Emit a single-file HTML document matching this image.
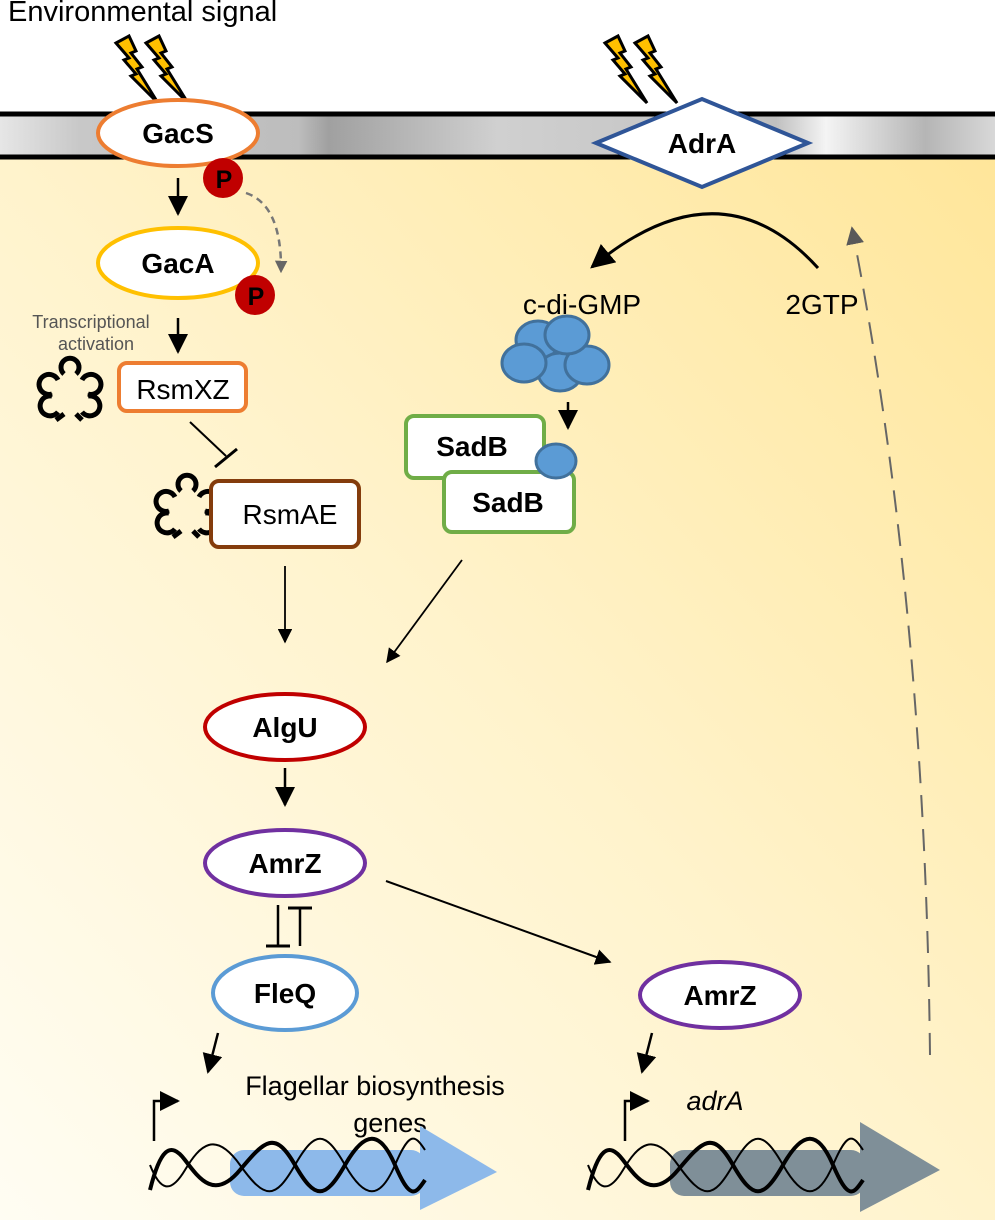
<!DOCTYPE html>
<html><head><meta charset="utf-8"><style>
html,body{margin:0;padding:0;background:#fff}
svg{display:block}
text{font-family:"Liberation Sans",Arial,sans-serif}
</style></head><body>
<svg width="995" height="1220" viewBox="0 0 995 1220" xmlns="http://www.w3.org/2000/svg">
<defs>
<linearGradient id="mem" x1="0" x2="1" y1="0" y2="0">
<stop offset="0" stop-color="#e6e6e6"/><stop offset="0.08" stop-color="#c8c8c8"/>
<stop offset="0.3" stop-color="#bdbdbd"/><stop offset="0.33" stop-color="#a0a0a0"/>
<stop offset="0.5" stop-color="#d0d0d0"/><stop offset="0.78" stop-color="#c0c0c0"/>
<stop offset="0.83" stop-color="#f4f4f4"/><stop offset="0.93" stop-color="#b5b5b5"/><stop offset="1" stop-color="#d8d8d8"/>
</linearGradient>
<linearGradient id="cyto" x1="0" y1="1" x2="1" y2="0">
<stop offset="0" stop-color="#fffdf3"/><stop offset="0.5" stop-color="#fff3cc"/><stop offset="1" stop-color="#ffe69a"/>
</linearGradient>
<marker id="ahs" viewBox="0 0 10 10" refX="9" refY="5" markerWidth="8" markerHeight="8" orient="auto"><path d="M0,0L10,5L0,10z" fill="#000"/></marker>
<marker id="ahg" viewBox="0 0 10 10" refX="9" refY="5" markerWidth="5" markerHeight="5" orient="auto"><path d="M0,0L10,5L0,10z" fill="#666"/></marker>
<marker id="ahg2" viewBox="0 0 10 10" refX="9" refY="5" markerWidth="9" markerHeight="9" orient="auto"><path d="M0,0L10,5L0,10z" fill="#595959"/></marker>
<g id="bolt"><path d="M0,0 L13,-7 L20,8 L15,10 L26,24 L21,26 L42,60 L15,33 L20,31 L8,17 L13,15 Z" fill="#FFC000" stroke="#000" stroke-width="3" stroke-linejoin="miter"/></g>
<g id="clover" fill="none" stroke="#000" stroke-width="5">
<path d="M-6,-14 A9,9 0 1 1 6,-14"/>
<path d="M-12,-8 A10,10 0 1 0 -18,6"/>
<path d="M12,-8 A10,10 0 1 1 18,6"/>
<path d="M-18,8 A10,10 0 1 0 -12,24"/>
<path d="M18,8 A10,10 0 1 1 12,24"/>
<path d="M-6,26 L-14,32 M6,26 L12,32"/>
</g>
</defs>
<rect x="0" y="0" width="995" height="1220" fill="#fff"/>
<rect x="0" y="158" width="995" height="1062" fill="url(#cyto)"/>
<rect x="0" y="114" width="995" height="44" fill="url(#mem)"/>
<line x1="0" y1="114" x2="995" y2="114" stroke="#000" stroke-width="5"/>
<line x1="0" y1="157" x2="995" y2="157" stroke="#000" stroke-width="5"/>

<text x="8" y="21" font-size="29">Environmental signal</text>
<use href="#bolt" x="116" y="43"/><use href="#bolt" x="146" y="43"/>
<use href="#bolt" x="605" y="43"/><use href="#bolt" x="635" y="43"/>

<!-- left column -->
<ellipse cx="178" cy="133" rx="80" ry="33" fill="#fff" stroke="#ED7D31" stroke-width="4"/>
<text x="178" y="143" font-size="28" font-weight="bold" text-anchor="middle">GacS</text>
<circle cx="223" cy="178" r="20" fill="#C00000"/>
<text x="224" y="188" font-size="25" font-weight="bold" text-anchor="middle">P</text>
<line x1="178" y1="178" x2="178" y2="214" stroke="#000" stroke-width="2.5" marker-end="url(#ahs)"/>
<path d="M246,193 Q282,205 281,272" fill="none" stroke="#777" stroke-width="2.5" stroke-dasharray="7,5" marker-end="url(#ahg)"/>
<ellipse cx="178" cy="263" rx="80" ry="35" fill="#fff" stroke="#FFC000" stroke-width="4"/>
<text x="178" y="273" font-size="28" font-weight="bold" text-anchor="middle">GacA</text>
<circle cx="255" cy="295" r="20" fill="#C00000"/>
<text x="256" y="305" font-size="25" font-weight="bold" text-anchor="middle">P</text>
<text x="91" y="328" font-size="18" fill="#555" text-anchor="middle">Transcriptional</text>
<text x="96" y="350" font-size="18" fill="#555" text-anchor="middle">activation</text>
<line x1="178" y1="318" x2="178" y2="352" stroke="#000" stroke-width="2.5" marker-end="url(#ahs)"/>
<use href="#clover" x="70" y="388"/>
<rect x="119" y="363" width="127" height="48" rx="8" fill="#fff" stroke="#ED7D31" stroke-width="4"/>
<text x="183" y="399" font-size="28" text-anchor="middle">RsmXZ</text>
<line x1="190" y1="422" x2="226" y2="456" stroke="#000" stroke-width="2"/>
<line x1="215" y1="467" x2="237" y2="449" stroke="#000" stroke-width="3"/>
<use href="#clover" x="187" y="505"/>
<rect x="211" y="481" width="148" height="66" rx="8" fill="#fff" stroke="#843C0C" stroke-width="4"/>
<text x="290" y="524" font-size="28" text-anchor="middle">RsmAE</text>
<line x1="285" y1="566" x2="285" y2="642" stroke="#000" stroke-width="1.8" marker-end="url(#ahs)"/>
<ellipse cx="285" cy="727" rx="80" ry="33" fill="#fff" stroke="#C00000" stroke-width="4"/>
<text x="285" y="737" font-size="28" font-weight="bold" text-anchor="middle">AlgU</text>
<line x1="285" y1="768" x2="285" y2="805" stroke="#000" stroke-width="2.5" marker-end="url(#ahs)"/>
<ellipse cx="285" cy="863" rx="80" ry="33" fill="#fff" stroke="#7030A0" stroke-width="4"/>
<text x="285" y="873" font-size="28" font-weight="bold" text-anchor="middle">AmrZ</text>
<line x1="278" y1="905" x2="278" y2="946" stroke="#000" stroke-width="2.5"/>
<line x1="266" y1="946" x2="290" y2="946" stroke="#000" stroke-width="3"/>
<line x1="300" y1="946" x2="300" y2="908" stroke="#000" stroke-width="2.5"/>
<line x1="288" y1="908" x2="312" y2="908" stroke="#000" stroke-width="3"/>
<ellipse cx="285" cy="993" rx="72" ry="37" fill="#fff" stroke="#5B9BD5" stroke-width="4"/>
<text x="285" y="1003" font-size="28" font-weight="bold" text-anchor="middle">FleQ</text>
<line x1="218" y1="1033" x2="208" y2="1072" stroke="#000" stroke-width="2.5" marker-end="url(#ahs)"/>
<path d="M154,1141 V1101 H178" fill="none" stroke="#000" stroke-width="2.5" marker-end="url(#ahs)"/>
<text x="375" y="1095" font-size="27" text-anchor="middle">Flagellar biosynthesis</text>
<text x="390" y="1132" font-size="27" text-anchor="middle">genes</text>
<rect x="230" y="1150" width="195" height="46" rx="14" fill="#8DB9EA"/>
<path d="M420,1126 L497,1172 L420,1210 Z" fill="#8DB9EA"/>
<g fill="none" stroke="#000">
<path d="M150,1190 C160,1150 170,1140 185,1160 S215,1200 240,1170 S275,1130 295,1165 S325,1200 345,1165 S380,1130 395,1165 S415,1195 425,1180" stroke-width="4"/>
<path d="M150,1165 C160,1190 170,1195 185,1170 S215,1130 240,1165 S275,1200 295,1165 S325,1130 345,1165 S380,1200 395,1165 S415,1135 425,1150" stroke-width="2"/>
</g>

<!-- right column -->
<polygon points="596,143 702,99 808,143 702,187" fill="#fff" stroke="#2F5597" stroke-width="4"/>
<text x="702" y="153" font-size="28" font-weight="bold" text-anchor="middle">AdrA</text>
<path d="M818,268 Q720,160 592,267" fill="none" stroke="#000" stroke-width="3" marker-end="url(#ahs)"/>
<text x="582" y="314" font-size="28" text-anchor="middle">c-di-GMP</text>
<text x="822" y="314" font-size="28" text-anchor="middle">2GTP</text>
<g fill="#5B9BD5" stroke="#41719C" stroke-width="3">
<ellipse cx="538" cy="340" rx="22" ry="19"/>
<ellipse cx="560" cy="372" rx="22" ry="19"/>
<ellipse cx="524" cy="363" rx="22" ry="19"/>
<ellipse cx="587" cy="365" rx="22" ry="19"/>
<ellipse cx="567" cy="335" rx="22" ry="19"/>
</g>
<line x1="568" y1="402" x2="568" y2="428" stroke="#000" stroke-width="2.5" marker-end="url(#ahs)"/>
<rect x="406" y="416" width="138" height="62" rx="8" fill="#fff" stroke="#70AD47" stroke-width="4"/>
<text x="472" y="456" font-size="28" font-weight="bold" text-anchor="middle">SadB</text>
<rect x="444" y="472" width="130" height="60" rx="8" fill="#fff" stroke="#70AD47" stroke-width="4"/>
<text x="508" y="512" font-size="28" font-weight="bold" text-anchor="middle">SadB</text>
<ellipse cx="556" cy="461" rx="20" ry="17" fill="#5B9BD5" stroke="#41719C" stroke-width="3"/>
<line x1="462" y1="560" x2="387" y2="662" stroke="#000" stroke-width="1.8" marker-end="url(#ahs)"/>
<line x1="386" y1="881" x2="610" y2="962" stroke="#000" stroke-width="2" marker-end="url(#ahs)"/>
<ellipse cx="720" cy="995" rx="80" ry="33" fill="#fff" stroke="#7030A0" stroke-width="4"/>
<text x="720" y="1005" font-size="28" font-weight="bold" text-anchor="middle">AmrZ</text>
<line x1="652" y1="1033" x2="642" y2="1072" stroke="#000" stroke-width="2.5" marker-end="url(#ahs)"/>
<path d="M625,1141 V1101 H648" fill="none" stroke="#000" stroke-width="2.5" marker-end="url(#ahs)"/>
<text x="715" y="1110" font-size="27" font-style="italic" text-anchor="middle">adrA</text>
<rect x="670" y="1150" width="195" height="46" rx="14" fill="#7F8F98"/>
<path d="M860,1122 L940,1170 L860,1212 Z" fill="#7F8F98"/>
<g fill="none" stroke="#000">
<path d="M588,1190 C598,1150 608,1140 623,1160 S653,1200 678,1170 S713,1130 733,1165 S763,1200 783,1165 S818,1130 833,1165 S853,1195 863,1180" stroke-width="4"/>
<path d="M588,1165 C598,1190 608,1195 623,1170 S653,1130 678,1165 S713,1200 733,1165 S763,1130 783,1165 S818,1200 833,1165 S853,1135 863,1150" stroke-width="2"/>
</g>
<path d="M930,1055 Q925,600 852,228" fill="none" stroke="#666" stroke-width="2" stroke-dasharray="22,12" marker-end="url(#ahg2)"/>
</svg>
</body></html>
